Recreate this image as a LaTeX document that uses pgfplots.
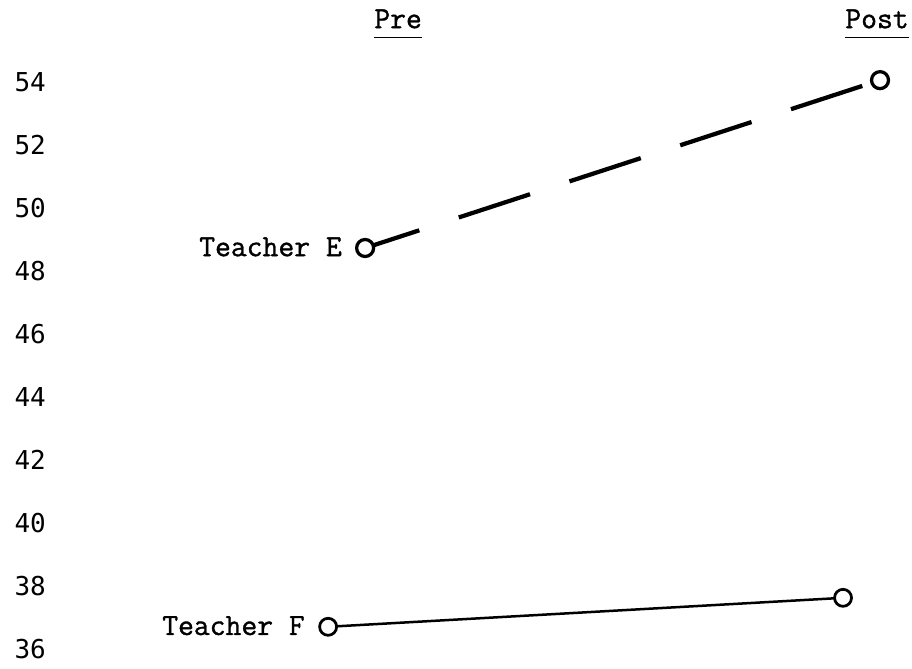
\documentclass[border=0pt]{standalone}
\usepackage{pgfplots}
\pgfplotsset{compat=1.18}
\usepackage{fontspec}
\setmainfont{Liberation Mono}
\newfontfamily\tw[FakeBold=1.2]{Latin Modern Mono}
\newfontfamily\numfont{DejaVu Sans Mono}
\newcommand{\ul}[1]{\underline{\smash{#1}\vphantom{g}}}
\begin{document}
\begin{tikzpicture}
\begin{axis}[
  scale only axis, width=182.4mm, height=133.6mm,
  xmin=0, xmax=912, ymin=35.40, ymax=56.61,
  axis x line*=top, axis y line*=left,
  axis line style={draw=none},
  major tick length=0pt,
  clip=false,
  xtick={398,877}, xticklabels={\ul{Pre},\ul{Post}},
  xticklabel style={anchor=base, yshift=-5.6mm, inner sep=0pt, font=\tw\fontsize{17.5}{20}\selectfont},
  ytick={36,38,...,54},
  yticklabel style={anchor=west, inner sep=0pt, xshift=2.8mm, font=\numfont\fontsize{14.8}{17}\selectfont, /pgf/number format/assume math mode=true},
]
\path (rel axis cs:0,0) rectangle (rel axis cs:1,1);
\addplot[black, line width=0.85mm, dash pattern=on 15mm off 8.3mm, dash phase=3.6mm,
  mark=*, mark size=1.7mm, mark options={solid, fill=white, line width=0.65mm}]
  coordinates {(365,48.74) (880,54.07)};
\addplot[black, line width=0.5mm, mark=*, mark size=1.7mm,
  mark options={fill=white, line width=0.55mm}]
  coordinates {(328,36.71) (843,37.63)};
\node[anchor=base east, inner sep=0pt, font=\tw\fontsize{17.5}{20}\selectfont] at (axis cs:342,48.48) {Teacher E};
\node[anchor=base east, inner sep=0pt, font=\tw\fontsize{17.5}{20}\selectfont] at (axis cs:305,36.45) {Teacher F};
\end{axis}
\end{tikzpicture}
\end{document}
